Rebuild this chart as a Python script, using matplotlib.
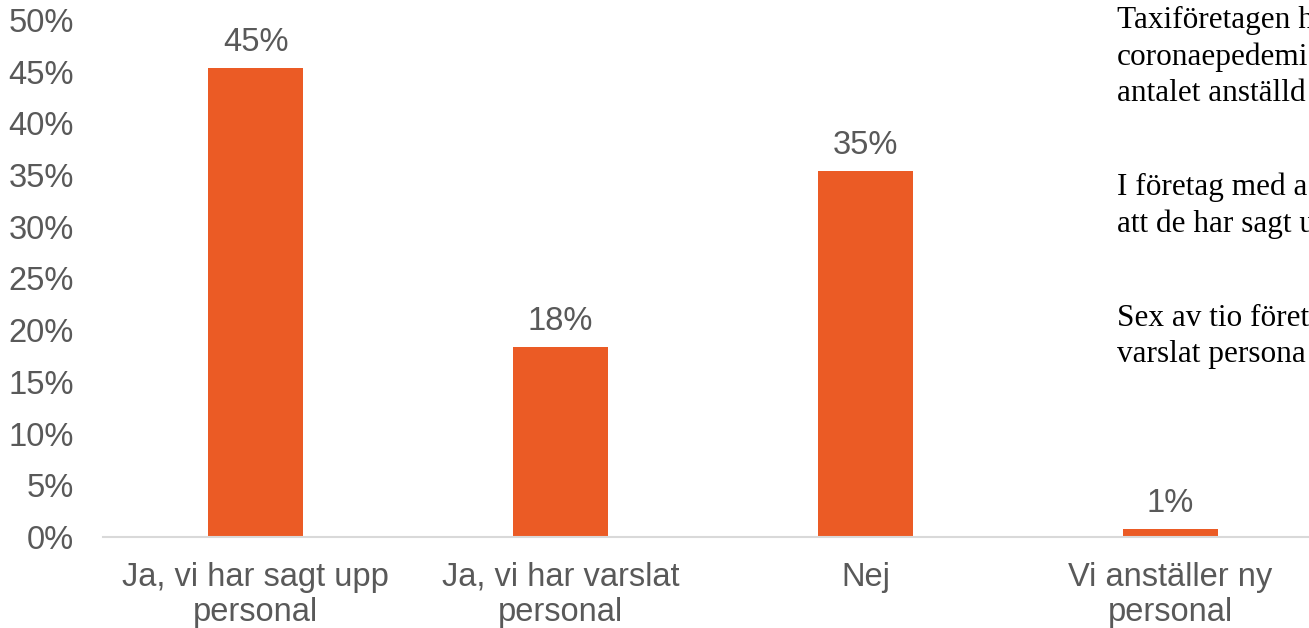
import matplotlib.pyplot as plt

categories = ['Ja, vi har sagt upp\npersonal', 'Ja, vi har varslat\npersonal', 'Nej', 'Vi anställer ny\npersonal']
values = [45.4, 18.4, 35.4, 0.8]
yticks = [0, 5, 10, 15, 20, 25, 30, 35, 40, 45, 50]

# side notes as far as they show before the image edge
notes = [
    'Taxiföretagen h\ncoronaepedemi\nantalet anställd',
    'I företag med a\natt de har sagt u',
    'Sex av tio föret\nvarslat persona',
]

bar_color = '#EB5B25'
text_color = '#595959'

plt.rcParams['font.family'] = ['Liberation Sans', 'DejaVu Sans']

fig = plt.figure(figsize=(13.09, 6.28), dpi=100)
# axes run past the right edge, like the cropped original
ax = fig.add_axes([103 / 1309, 91 / 628, 1220 / 1309, 517 / 628])

x = range(len(categories))
bars = ax.bar(x, values, width=0.31, color=bar_color)

for rect, v in zip(bars, values):
    ax.annotate(f'{v:.0f}%', (rect.get_x() + rect.get_width() / 2, v),
                xytext=(0, 7), textcoords='offset points',
                ha='center', va='bottom', fontsize=23.5, color=text_color)

ax.set_xlim(-0.5, 3.5)
ax.set_ylim(0, 50)
ax.set_yticks(yticks)
ax.set_yticklabels([f'{t}%' for t in yticks])
ax.set_xticks(list(x))
ax.set_xticklabels(categories, linespacing=1.15)

ax.tick_params(axis='y', length=0, pad=21, labelsize=23.5, labelcolor=text_color)
ax.tick_params(axis='x', length=0, pad=18, labelsize=23.5, labelcolor=text_color)

for s in ['top', 'right', 'left']:
    ax.spines[s].set_visible(False)
ax.spines['bottom'].set_color('#D9D9D9')
ax.spines['bottom'].set_linewidth(1.5)

note_y = [628 - 6, 628 - 173, 628 - 304]
for txt, yy in zip(notes, note_y):
    fig.text(1117 / 1309, yy / 628, txt, ha='left', va='top',
             fontsize=22.5, family='Liberation Serif', color='black',
             linespacing=1.32)

fig.savefig('out.png', dpi=100)
